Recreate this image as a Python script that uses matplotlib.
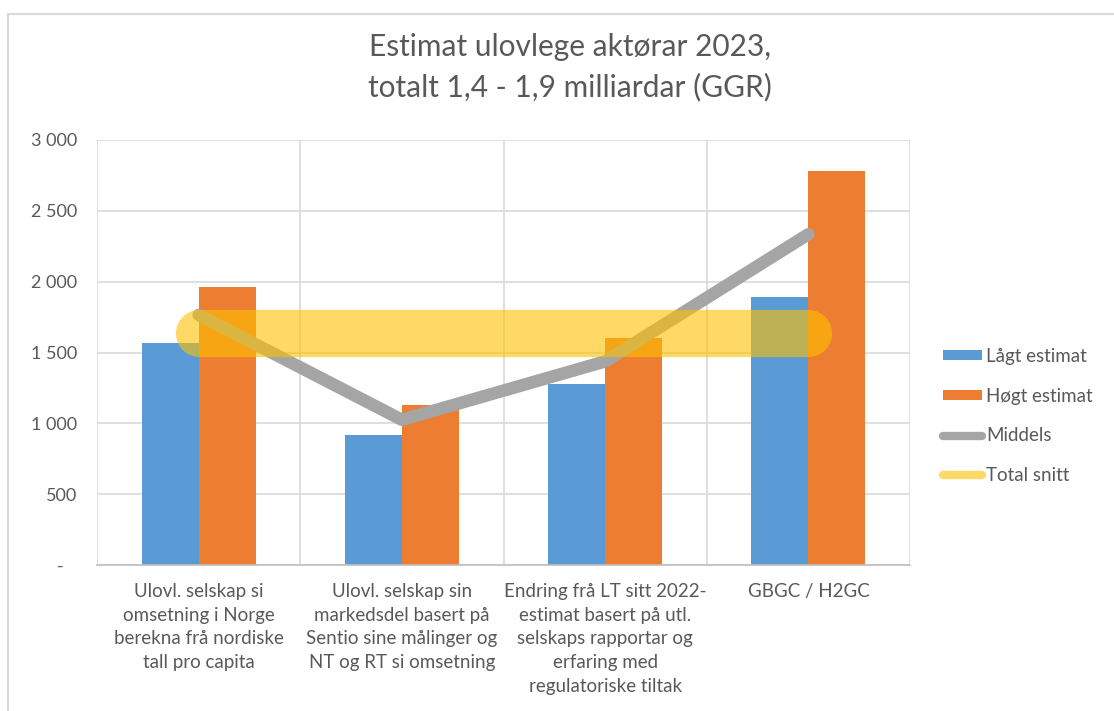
import matplotlib
matplotlib.use("Agg")
import matplotlib.pyplot as plt
import numpy as np
from matplotlib.patches import Patch, Rectangle
from matplotlib.lines import Line2D

plt.rcParams['font.family'] = ['Lato', 'DejaVu Sans']

categories = [
    "Ulovl. selskap si\nomsetning i Norge\nberekna frå nordiske\ntall pro capita",
    "Ulovl. selskap sin\nmarkedsdel basert på\nSentio sine målinger og\nNT og RT si omsetning",
    "Endring frå LT sitt 2022-\nestimat basert på utl.\nselskaps rapportar og\nerfaring med\nregulatoriske tiltak",
    "GBGC / H2GC",
]
low = [1565, 920, 1275, 1890]
high = [1965, 1130, 1600, 2780]
middels = [1765, 1025, 1437, 2335]
total_snitt = [1640, 1640, 1640, 1640]
yticks = [0, 500, 1000, 1500, 2000, 2500, 3000]
ytick_labels = ["-   ", "500", "1 000", "1 500", "2 000", "2 500", "3 000"]
series_names = ["Lågt estimat", "Høgt estimat", "Middels", "Total snitt"]

c_blue = "#5B9BD5"
c_orange = "#ED7D31"
c_gray = "#A5A5A5"
c_yellow = "#FFC000"
txt = "#595959"

fig = plt.figure(figsize=(11.14, 7.11), dpi=100)
fig.patches.append(Rectangle((8/1114, -0.01), 1.1, 1 - 14/711 + 0.01, transform=fig.transFigure,
                             fill=False, edgecolor="#D9D9D9", linewidth=1.5))

ax = fig.add_axes([97/1114, 1 - 565/711, (910-97)/1114, (565-140)/711])
x = np.arange(len(categories))
w = 0.28
ax.bar(x - w/2, low, width=w, color=c_blue, zorder=2)
ax.bar(x + w/2, high, width=w, color=c_orange, zorder=2)
ax.plot(x, middels, color=c_gray, linewidth=9, solid_capstyle="round", solid_joinstyle="round", zorder=3)
ax.plot(x, total_snitt, color=c_yellow, alpha=0.6, linewidth=34, solid_capstyle="round", zorder=4)

ax.set_xlim(-0.5, len(categories) - 0.5)
ax.set_ylim(0, 3000)
ax.set_yticks(yticks)
ax.set_yticklabels(ytick_labels, fontsize=13, color=txt)
ax.set_xticks(x)
ax.set_xticklabels(categories, fontsize=13.5, color=txt, va="top", linespacing=1.48)
ax.set_xticks(np.arange(len(categories) + 1) - 0.5, minor=True)
ax.tick_params(axis="both", which="both", length=0)
ax.tick_params(axis="x", pad=13)
ax.tick_params(axis="y", pad=14)
ax.grid(axis="y", color="#D9D9D9", linewidth=1.2, zorder=0)
ax.grid(axis="x", which="minor", color="#D9D9D9", linewidth=1.2, zorder=0)
ax.grid(axis="x", which="major", visible=False)
for s in ["top", "left", "right"]:
    ax.spines[s].set_visible(False)
ax.spines["bottom"].set_color("#BFBFBF")
ax.spines["bottom"].set_linewidth(1.2)
ax.set_axisbelow(True)

fig.text(0.512, 1 - 33/711, "Estimat ulovlege aktørar 2023,\ntotalt 1,4 - 1,9 milliardar (GGR)",
         ha="center", va="top", fontsize=21.5, color=txt, linespacing=1.5)

handles = [
    Patch(facecolor=c_blue, edgecolor="none"),
    Patch(facecolor=c_orange, edgecolor="none"),
    Line2D([0], [0], color=c_gray, linewidth=6, solid_capstyle="round"),
    Line2D([0], [0], color=c_yellow, alpha=0.6, linewidth=6, solid_capstyle="round"),
]
leg = fig.legend(handles, series_names, loc="center left", bbox_to_anchor=(926/1114, 1 - 416/711),
                 frameon=False, fontsize=13.5, labelcolor=txt, handlelength=2.1, handleheight=0.45,
                 handletextpad=0.2, labelspacing=1.22)

fig.savefig("out.png", dpi=100)
